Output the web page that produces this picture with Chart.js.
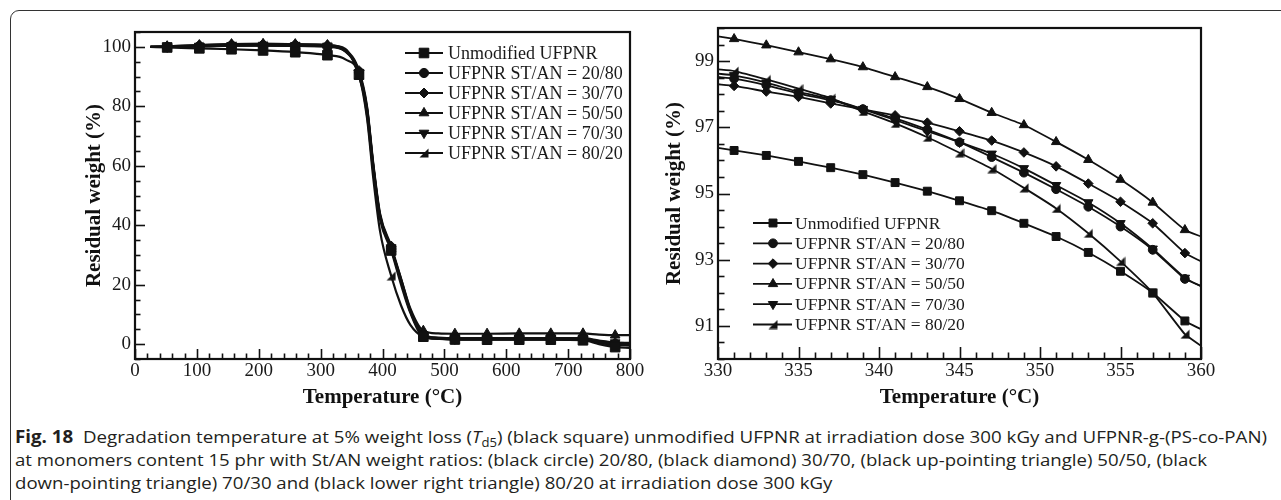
<!DOCTYPE html>
<html><head><meta charset="utf-8">
<script src="https://cdn.jsdelivr.net/npm/chart.js@4/dist/chart.umd.min.js"></script>
<style>
html,body{margin:0;padding:0;background:#fff;width:1281px;height:500px;overflow:hidden;position:relative;}
#frame{position:absolute;left:10px;top:10px;width:1300px;height:520px;border:1.5px solid #333;border-radius:9px;box-sizing:border-box;}
#c1{position:absolute;left:0;top:0;width:650px;height:420px;}
#c2{position:absolute;left:650px;top:0;width:631px;height:420px;}
#cap{position:absolute;left:15px;top:425px;font-family:"Open Sans",sans-serif;font-size:17px;line-height:23px;color:#231f20;}
.ln{white-space:nowrap;transform-origin:0 0;display:block;width:max-content;}
.ln sub{font-size:70%;line-height:0;vertical-align:-0.3em;}
</style></head>
<body>
<div id="frame"></div>
<canvas id="c1" width="650" height="420"></canvas>
<canvas id="c2" width="631" height="420"></canvas>
<div id="cap">
<span class="ln" id="l1"><b>Fig. 18</b>&nbsp; Degradation temperature at 5% weight loss (<i>T</i><sub>d5</sub>) (black square) unmodified UFPNR at irradiation dose 300 kGy and UFPNR-g-(PS-co-PAN)</span>
<span class="ln" id="l2">at monomers content 15 phr with St/AN weight ratios: (black circle) 20/80, (black diamond) 30/70, (black up-pointing triangle) 50/50, (black</span>
<span class="ln" id="l3">down-pointing triangle) 70/30 and (black lower right triangle) 80/20 at irradiation dose 300 kGy</span>
</div>
<script>
// ---------- DATA ----------
const seriesLabels = ['Unmodified UFPNR','UFPNR ST/AN = 20/80','UFPNR ST/AN = 30/70','UFPNR ST/AN = 50/50','UFPNR ST/AN = 70/30','UFPNR ST/AN = 80/20'];

// Left panel (full TGA curve)
const leftTemp = [25, 52, 104, 156, 207, 259, 311, 340, 362, 375, 385, 396, 414, 430, 445, 466, 490, 517, 569, 621, 672, 724, 750, 776, 800];
const leftMarkerTemp = [52, 104, 156, 207, 259, 311, 362, 414, 466, 517, 569, 621, 672, 724, 776];
const leftUnmod = [100, 99.8, 99.5, 99.2, 98.8, 98.2, 97.2, 95.8, 90.8, 77, 58, 42, 31.5, 20, 10.5, 2.5, 1.8, 1.6, 1.5, 1.5, 1.5, 1.3, 0, -1, -1.3];
const left2080  = [100, 100, 100.2, 100.4, 100.4, 100.3, 100, 98.5, 91.5, 79, 60, 43, 32, 21, 11, 3, 2, 1.8, 1.8, 1.8, 1.8, 1.7, 0.8, 0, -0.2];
const left3070  = [100, 100.2, 100.6, 100.9, 101, 100.9, 100.6, 99, 92, 80, 61, 44, 33, 22, 11.5, 3.2, 2.2, 2, 2, 2, 2, 2, 1.2, 0.5, 0.3];
const left5050  = [100, 100.2, 100.6, 100.9, 101, 100.9, 100.6, 99.3, 90, 79, 60, 43, 32, 22, 12, 4.5, 3.6, 3.5, 3.5, 3.6, 3.6, 3.6, 3.2, 3, 3];
const left7030  = [100, 100, 100.3, 100.5, 100.6, 100.5, 100.3, 98.8, 91, 79.5, 60.5, 43.5, 32.5, 21.5, 11, 3, 2, 1.8, 1.8, 1.8, 1.8, 1.8, 1, 0.5, 0.4];
const left8020  = [100, 100, 100.2, 100.4, 100.5, 100.4, 100.2, 98.5, 90.5, 76, 56, 38, 23, 13, 6.5, 2.5, 1.8, 1.5, 1.5, 1.5, 1.5, 1.5, 0.5, -0.3, -0.5];

// Right panel (zoom 330-360 C)
const rightTemp = [330, 331, 333, 335, 337, 339, 341, 343, 345, 347, 349, 351, 353, 355, 357, 359, 360];
const rightMarkerTemp = [331, 333, 335, 337, 339, 341, 343, 345, 347, 349, 351, 353, 355, 357, 359];
const rightUnmod = [96.38, 96.30, 96.15, 95.97, 95.78, 95.57, 95.33, 95.07, 94.78, 94.48, 94.10, 93.70, 93.22, 92.65, 92.00, 91.15, 90.90];
const right2080  = [98.52, 98.47, 98.27, 98.02, 97.82, 97.55, 97.27, 96.93, 96.55, 96.10, 95.63, 95.13, 94.60, 94.00, 93.30, 92.42, 92.20];
const right3070  = [98.30, 98.25, 98.08, 97.92, 97.72, 97.54, 97.36, 97.14, 96.88, 96.60, 96.24, 95.82, 95.30, 94.75, 94.10, 93.20, 92.95];
const right5050  = [99.75, 99.67, 99.48, 99.27, 99.06, 98.82, 98.52, 98.22, 97.86, 97.44, 97.07, 96.56, 96.02, 95.42, 94.73, 93.90, 93.70];
const right7030  = [98.62, 98.57, 98.35, 98.07, 97.85, 97.55, 97.22, 96.88, 96.55, 96.20, 95.76, 95.25, 94.73, 94.10, 93.33, 92.45, 92.20];
const right8020  = [98.75, 98.70, 98.45, 98.17, 97.88, 97.48, 97.12, 96.70, 96.23, 95.75, 95.17, 94.55, 93.80, 92.95, 92.00, 90.75, 90.40];

// ---------- STYLE ----------
const SERIF = '"Liberation Serif","Times New Roman",serif';
const INK = '#111';
function lrTri(size){
  const c = document.createElement('canvas'); c.width = size; c.height = size;
  const g = c.getContext('2d'); g.fillStyle = INK;
  g.beginPath(); g.moveTo(0.5,size-0.5); g.lineTo(size-0.5,size-0.5); g.lineTo(size-0.5,0.5); g.closePath(); g.fill();
  return c;
}
const markerDefs = (big) => [
  {style:'rect', rot:0, r: big?6.8:5.6},
  {style:'circle', rot:0, r: big?4.6:4.4},
  {style:'rectRot', rot:0, r: big?5:4.8},
  {style:'triangle', rot:0, r: big?5.6:5.4},
  {style:'triangle', rot:180, r: big?5.6:5.4},
  {style: lrTri(10), rot:0, r: 5}
];

function buildDatasets(temps, markers, arrays, big, lw){
  const defs = markerDefs(big);
  const mset = new Set(markers);
  return arrays.map((arr, i) => ({
    label: seriesLabels[i],
    data: temps.map((t, k) => ({x: t, y: arr[k]})),
    borderColor: INK, borderWidth: lw,
    backgroundColor: INK,
    pointBackgroundColor: INK, pointBorderColor: INK, pointBorderWidth: 1,
    pointStyle: defs[i].style, pointRotation: defs[i].rot,
    _legendR: defs[i].r,
    pointRadius: (ctx) => (ctx.raw && mset.has(ctx.raw.x)) ? defs[i].r : 0,
    pointHoverRadius: 0,
    tension: 0.4, cubicInterpolationMode: big ? 'monotone' : 'default',
    fill: false
  }));
}

const frameTicks = {
  id: 'frameTicks',
  afterDatasetsDraw(chart, args, o){
    const ctx = chart.ctx, a = chart.chartArea;
    ctx.save();
    ctx.strokeStyle = INK; ctx.lineWidth = o.lw;
    ctx.strokeRect(a.left, a.top, a.right - a.left, a.bottom - a.top);
    ctx.lineWidth = o.tw;
    const xs = chart.scales.x, ys = chart.scales.y;
    xs.ticks.forEach(t => {
      const p = Math.round(xs.getPixelForValue(t.value)) + 0.5;
      const L = o.isMajorX(t.value) ? o.majorX : o.minorX;
      ctx.beginPath(); ctx.moveTo(p, a.bottom); ctx.lineTo(p, a.bottom - L); ctx.stroke();
    });
    ys.ticks.forEach(t => {
      const p = Math.round(ys.getPixelForValue(t.value)) + 0.5;
      const L = o.isMajorY(t.value) ? o.majorY : o.minorY;
      ctx.beginPath(); ctx.moveTo(a.left, p); ctx.lineTo(a.left + L, p); ctx.stroke();
    });
    ctx.restore();
  }
};

function drawMarker(ctx, style, rot, r, x, y){
  if (Chart.helpers && Chart.helpers.drawPoint) {
    Chart.helpers.drawPoint(ctx, {pointStyle: style, rotation: rot, radius: r, borderWidth: 1}, x, y);
  }
}
const boxLegend = {
  id: 'boxLegend',
  afterDraw(chart, args, o){
    const ctx = chart.ctx;
    chart.data.datasets.forEach((ds, i) => {
      const y = o.y0 + i * o.dy;
      ctx.save();
      ctx.strokeStyle = INK; ctx.fillStyle = INK; ctx.lineWidth = o.lw;
      ctx.beginPath(); ctx.moveTo(o.x0, y); ctx.lineTo(o.x1, y); ctx.stroke();
      ctx.lineWidth = 1;
      drawMarker(ctx, ds.pointStyle, ds.pointRotation, ds._legendR, o.xm, y);
      ctx.font = o.size + 'px ' + SERIF;
      ctx.textBaseline = 'middle'; ctx.textAlign = 'left';
      ctx.fillStyle = '#1a1a1a';
      ctx.fillText(ds.label, o.tx, y + 1);
      ctx.restore();
    });
  }
};

function axisFont(size, bold){ return {family: SERIF, size: size, weight: bold ? 'bold' : 'normal'}; }

// ---------- LEFT CHART ----------
new Chart(document.getElementById('c1'), {
  type: 'line',
  data: { datasets: buildDatasets(leftTemp, leftMarkerTemp, [leftUnmod, left2080, left3070, left5050, left7030, left8020], true, 2.2) },
  options: {
    responsive: false, animation: false, events: [],
    layout: {padding: {top: 32, right: 20, left: 0, bottom: 0}},
    plugins: {
      legend: {display: false}, tooltip: {enabled: false},
      frameTicks: {lw: 2.2, tw: 1.6, majorX: 10, minorX: 5.5, majorY: 10, minorY: 5.5,
        isMajorX: v => Math.abs(v % 100) < 1e-6, isMajorY: v => v >= 0 && v <= 100 && Math.abs(v % 20) < 1e-6},
      boxLegend: {x0: 405, x1: 443, xm: 424, tx: 448, y0: 53, dy: 20, lw: 1.8, size: 18}
    },
    scales: {
      x: {type: 'linear', min: 0, max: 800,
        ticks: {stepSize: 20, autoSkip: false, maxRotation: 0, padding: 1, color: '#1a1a1a', font: axisFont(19),
          callback: v => (Math.abs(v % 100) < 1e-6) ? String(v) : ''},
        grid: {display: false, drawTicks: false}, border: {display: false},
        title: {display: true, text: 'Temperature (°C)', color: INK, font: axisFont(21, true), padding: {top: 0, bottom: 10}},
        afterFit: s => { s.height = 61; }
      },
      y: {type: 'linear', min: -5, max: 105,
        ticks: {stepSize: 5, autoSkip: false, padding: 4, color: '#1a1a1a', font: axisFont(19),
          callback: v => (v >= 0 && v <= 100 && Math.abs(v % 20) < 1e-6) ? String(v) : ''},
        grid: {display: false, drawTicks: false}, border: {display: false},
        title: {display: true, text: 'Residual weight (%)', color: INK, font: axisFont(21, true), padding: {top: 82, bottom: 0}},
        afterFit: s => { s.width = 135; }
      }
    }
  },
  plugins: [frameTicks, boxLegend]
});

// ---------- RIGHT CHART ----------
const isOddLabel = v => { const q = (v - 91) / 2; return v >= 90.99 && v <= 99.01 && Math.abs(q - Math.round(q)) < 1e-6; };
new Chart(document.getElementById('c2'), {
  type: 'line',
  data: { datasets: buildDatasets(rightTemp, rightMarkerTemp, [rightUnmod, right2080, right3070, right5050, right7030, right8020], false, 1.8).map(d => Object.assign(d, {tension: 0.15})) },
  options: {
    responsive: false, animation: false, events: [],
    layout: {padding: {top: 28, right: 80, left: 0, bottom: 0}},
    plugins: {
      legend: {display: false}, tooltip: {enabled: false},
      frameTicks: {lw: 2.2, tw: 1.6, majorX: 12, minorX: 6.5, majorY: 12, minorY: 6.5,
        isMajorX: v => Math.abs(v % 5) < 1e-6, isMajorY: isOddLabel},
      boxLegend: {x0: 103, x1: 142, xm: 123, tx: 145, y0: 223, dy: 20.3, lw: 1.8, size: 17.5}
    },
    scales: {
      x: {type: 'linear', min: 330, max: 360,
        ticks: {stepSize: 1, autoSkip: false, maxRotation: 0, padding: 1, color: '#1a1a1a', font: axisFont(19),
          callback: v => (Math.abs(v % 5) < 1e-6) ? String(v) : ''},
        grid: {display: false, drawTicks: false}, border: {display: false},
        title: {display: true, text: 'Temperature (°C)', color: INK, font: axisFont(21, true), padding: {top: 0, bottom: 10}},
        afterFit: s => { s.height = 61; }
      },
      y: {type: 'linear', min: 90, max: 100,
        ticks: {stepSize: 0.5, autoSkip: false, padding: 4, color: '#1a1a1a', font: axisFont(19),
          callback: v => isOddLabel(v) ? String(Math.round(v)) : ''},
        grid: {display: false, drawTicks: false}, border: {display: false},
        title: {display: true, text: 'Residual weight (%)', color: INK, font: axisFont(21, true), padding: {top: 12, bottom: 0}},
        afterFit: s => { s.width = 68; }
      }
    }
  },
  plugins: [frameTicks, boxLegend]
});

// caption line fitting: line 1 and line 2 to their measured widths, line 3 shares line 2's scale
function fitCaption(){
  const els = ['l1','l2','l3'].map(id => document.getElementById(id));
  els.forEach(el => el.style.transform = 'none');
  const w1 = els[0].getBoundingClientRect().width, w2 = els[1].getBoundingClientRect().width;
  if (!w1 || !w2) return;
  const s1 = 1252 / w1, s2 = 1192 / w2;
  els[0].style.transform = 'scaleX(' + s1.toFixed(4) + ')';
  els[1].style.transform = 'scaleX(' + s2.toFixed(4) + ')';
  els[2].style.transform = 'scaleX(' + s2.toFixed(4) + ')';
}
fitCaption();
if (document.fonts && document.fonts.ready) document.fonts.ready.then(fitCaption);
</script>
</body></html>
